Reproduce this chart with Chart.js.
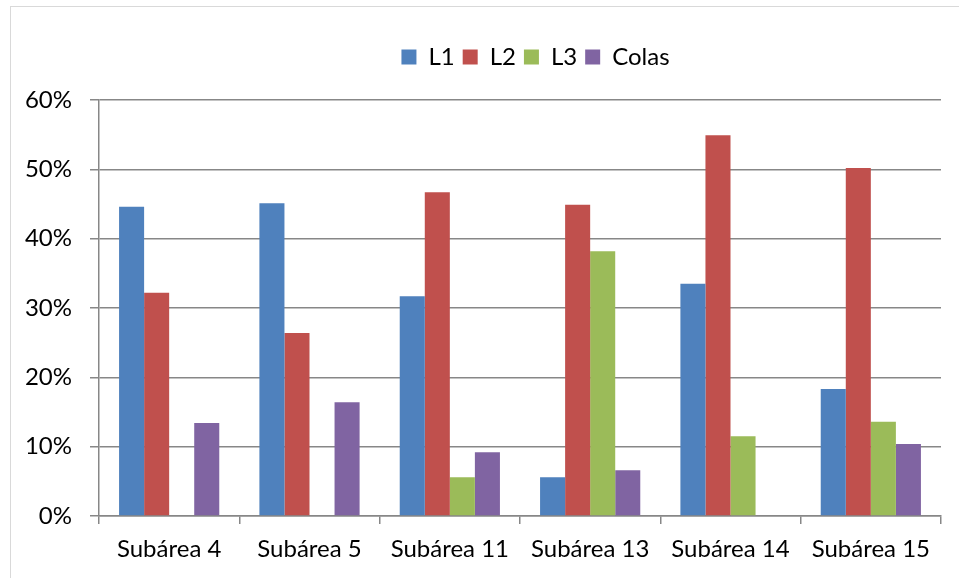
<!DOCTYPE html>
<html>
<head>
<meta charset="utf-8">
<script src="https://cdn.jsdelivr.net/npm/chart.js@4/dist/chart.umd.min.js"></script>
<style>
    html, body { margin: 0; padding: 0; background: #fff; overflow: hidden; }
    #wrap { position: relative; width: 959px; height: 578px; }
    #frame { position: absolute; left: 10px; top: 6px; width: 960px; height: 580px; border: 1px solid #d9d9d9; }
    canvas { position: absolute; left: 0; top: 0; }
</style>
</head>
<body>
<div id="wrap">
    <div id="frame"></div>
    <canvas id="chart"></canvas>
</div>
<script>
const COLORS = { azul: '#4F81BD', rojo: '#C0504D', verde: '#9BBB59', morado: '#8064A2', grid: '#878787' };

// Datos (en %)
const subareas = ['Subárea 4', 'Subárea 5', 'Subárea 11', 'Subárea 13', 'Subárea 14', 'Subárea 15'];
const l1    = [44.6, 45.1, 31.7, 5.6, 33.5, 18.3];
const l2    = [32.2, 26.4, 46.7, 44.9, 54.9, 50.2];
const l3    = [0, 0, 5.6, 38.2, 11.5, 13.6];
const colas = [13.4, 16.4, 9.2, 6.6, 0, 10.4];
const yTicks = [0, 10, 20, 30, 40, 50, 60];

const FONT = { family: 'Lato, "Open Sans", sans-serif', size: 24 };

// Altura fija de la leyenda (área del gráfico empieza en y=100) y leyenda algo desplazada a la derecha
const legendAjuste = {
    id: 'legendAjuste',
    beforeInit(chart) {
        const fit = chart.legend.fit;
        chart.legend.fit = function () { fit.bind(chart.legend)(); this.height = 63; };
    },
    afterLayout(chart) {
        chart.legend.left += 65;
        chart.legend.right += 65;
    }
};

new Chart(document.getElementById('chart'), {
    type: 'bar',
    data: {
        labels: subareas,
        datasets: [
            { label: 'L1', data: l1, backgroundColor: COLORS.azul },
            { label: 'L2', data: l2, backgroundColor: COLORS.rojo },
            { label: 'L3', data: l3, backgroundColor: COLORS.verde },
            { label: 'Colas', data: colas, backgroundColor: COLORS.morado }
        ]
    },
    options: {
        responsive: true,
        maintainAspectRatio: false,
        animation: false,
        layout: { padding: { top: 37, right: 18, left: 0, bottom: 0 } },
        datasets: { bar: { categoryPercentage: 0.714, barPercentage: 1, borderWidth: 0 } },
        scales: {
            x: {
                grid: { offset: true, drawOnChartArea: false, tickLength: 8, color: COLORS.grid, lineWidth: 1.5 },
                border: { color: COLORS.grid, width: 1.5 },
                ticks: { color: '#000', font: FONT, padding: 11, maxRotation: 0 },
                afterFit: s => { s.height = 62; }
            },
            y: {
                min: 0, max: 60,
                afterBuildTicks: s => { s.ticks = yTicks.map(v => ({ value: v })); },
                grid: { color: COLORS.grid, lineWidth: 1.5, tickLength: 9 },
                border: { color: COLORS.grid, width: 1.5 },
                ticks: { color: '#000', font: FONT, padding: 18, callback: v => v + '%' },
                afterFit: s => { s.width = 99; }
            }
        },
        plugins: {
            legend: {
                position: 'top',
                labels: { boxWidth: 15, boxHeight: 15, padding: 8, color: '#000', font: FONT }
            },
            tooltip: { enabled: false }
        }
    },
    plugins: [legendAjuste]
});
</script>
</body>
</html>
